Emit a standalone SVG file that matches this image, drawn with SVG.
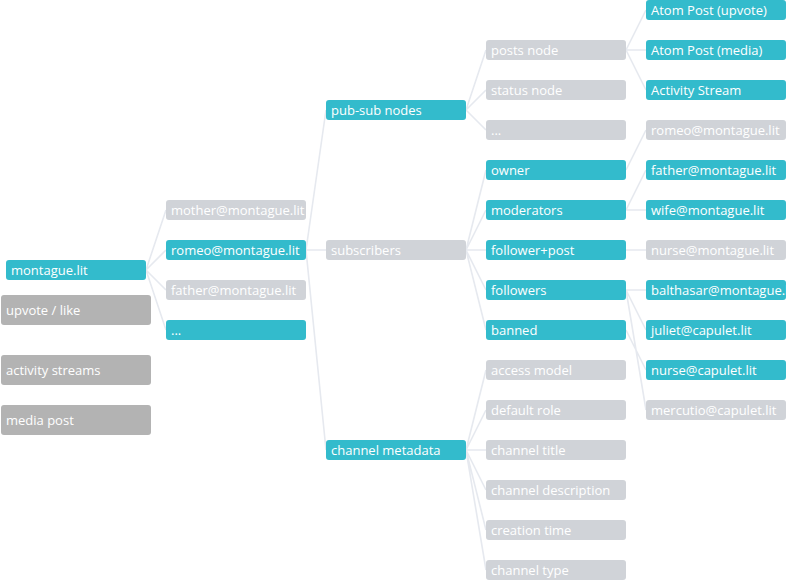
<svg xmlns="http://www.w3.org/2000/svg" width="786" height="580" viewBox="0 0 786 580">
<style>
.l{stroke:#e6e9ef;stroke-width:1.6;fill:none}
.t rect{fill:#33bbcc}
.g rect{fill:#d0d3d8}
.d rect{fill:#b3b3b3}
text{font-family:"Open Sans","Liberation Sans",sans-serif;font-size:13px;fill:#fff}
</style>
<rect width="786" height="580" fill="#fff"/>
<g id="connectors">
<path class="l" d="M146 270L166 210M146 270L166 250M146 270L166 290M146 270L166 330"/>
<path class="l" d="M306 250L326 110M306 250L326 250M306 250L326 450"/>
<path class="l" d="M466 110L486 50M466 110L486 90M466 110L486 130"/>
<path class="l" d="M466 250L486 170M466 250L486 210M466 250L486 250M466 250L486 290M466 250L486 330"/>
<path class="l" d="M466 450L486 370M466 450L486 410M466 450L486 450M466 450L486 490M466 450L486 530M466 450L486 570"/>
<path class="l" d="M626 50L646 10M626 50L646 50M626 50L646 90"/>
<path class="l" d="M626 170L646 130M626 210L646 170M626 210L646 210M626 250L646 250"/>
<path class="l" d="M626 290L646 290M626 290L646 330M626 290L646 410M626 330L646 370"/>
</g>
<g id="n-montague" class="t"><rect x="6" y="260" width="140" height="20" rx="3"/><text x="11" y="275">montague.lit</text></g>
<g id="n-upvote" class="d"><rect x="1" y="295" width="150" height="30" rx="3"/><text x="6" y="315">upvote / like</text></g>
<g id="n-activity" class="d"><rect x="1" y="355" width="150" height="30" rx="3"/><text x="6" y="375">activity streams</text></g>
<g id="n-media" class="d"><rect x="1" y="405" width="150" height="30" rx="3"/><text x="6" y="425">media post</text></g>

<g id="n-mother" class="g"><rect x="166" y="200" width="140" height="20" rx="3"/><text x="171" y="215">mother@montague.lit</text></g>
<g id="n-romeo" class="t"><rect x="166" y="240" width="140" height="20" rx="3"/><text x="171" y="255">romeo@montague.lit</text></g>
<g id="n-father" class="g"><rect x="166" y="280" width="140" height="20" rx="3"/><text x="171" y="295">father@montague.lit</text></g>
<g id="n-etc1" class="t"><rect x="166" y="320" width="140" height="20" rx="3"/><text x="171" y="335">...</text></g>

<g id="n-pubsub" class="t"><rect x="326" y="100" width="140" height="20" rx="3"/><text x="331" y="115">pub-sub nodes</text></g>
<g id="n-subscribers" class="g"><rect x="326" y="240" width="140" height="20" rx="3"/><text x="331" y="255">subscribers</text></g>
<g id="n-metadata" class="t"><rect x="326" y="440" width="140" height="20" rx="3"/><text x="331" y="455">channel metadata</text></g>

<g id="n-posts" class="g"><rect x="486" y="40" width="140" height="20" rx="3"/><text x="491" y="55">posts node</text></g>
<g id="n-status" class="g"><rect x="486" y="80" width="140" height="20" rx="3"/><text x="491" y="95">status node</text></g>
<g id="n-etc2" class="g"><rect x="486" y="120" width="140" height="20" rx="3"/><text x="491" y="135">...</text></g>
<g id="n-owner" class="t"><rect x="486" y="160" width="140" height="20" rx="3"/><text x="491" y="175">owner</text></g>
<g id="n-moderators" class="t"><rect x="486" y="200" width="140" height="20" rx="3"/><text x="491" y="215">moderators</text></g>
<g id="n-followerpost" class="t"><rect x="486" y="240" width="140" height="20" rx="3"/><text x="491" y="255">follower+post</text></g>
<g id="n-followers" class="t"><rect x="486" y="280" width="140" height="20" rx="3"/><text x="491" y="295">followers</text></g>
<g id="n-banned" class="t"><rect x="486" y="320" width="140" height="20" rx="3"/><text x="491" y="335">banned</text></g>
<g id="n-access" class="g"><rect x="486" y="360" width="140" height="20" rx="3"/><text x="491" y="375">access model</text></g>
<g id="n-role" class="g"><rect x="486" y="400" width="140" height="20" rx="3"/><text x="491" y="415">default role</text></g>
<g id="n-title" class="g"><rect x="486" y="440" width="140" height="20" rx="3"/><text x="491" y="455">channel title</text></g>
<g id="n-desc" class="g"><rect x="486" y="480" width="140" height="20" rx="3"/><text x="491" y="495">channel description</text></g>
<g id="n-ctime" class="g"><rect x="486" y="520" width="140" height="20" rx="3"/><text x="491" y="535">creation time</text></g>
<g id="n-ctype" class="g"><rect x="486" y="560" width="140" height="20" rx="3"/><text x="491" y="575">channel type</text></g>

<g id="n-atomup" class="t"><rect x="646" y="0" width="140" height="20" rx="3"/><text x="651" y="15">Atom Post (upvote)</text></g>
<g id="n-atommedia" class="t"><rect x="646" y="40" width="140" height="20" rx="3"/><text x="651" y="55">Atom Post (media)</text></g>
<g id="n-actstream" class="t"><rect x="646" y="80" width="140" height="20" rx="3"/><text x="651" y="95">Activity Stream</text></g>
<g id="n-romeo2" class="g"><rect x="646" y="120" width="140" height="20" rx="3"/><text x="651" y="135">romeo@montague.lit</text></g>
<g id="n-father2" class="t"><rect x="646" y="160" width="140" height="20" rx="3"/><text x="651" y="175">father@montague.lit</text></g>
<g id="n-wife" class="t"><rect x="646" y="200" width="140" height="20" rx="3"/><text x="651" y="215">wife@montague.lit</text></g>
<g id="n-nursem" class="g"><rect x="646" y="240" width="140" height="20" rx="3"/><text x="651" y="255">nurse@montague.lit</text></g>
<g id="n-balthasar" class="t"><rect x="646" y="280" width="140" height="20" rx="3"/><text x="651" y="295">balthasar@montague.lit</text></g>
<g id="n-juliet" class="t"><rect x="646" y="320" width="140" height="20" rx="3"/><text x="651" y="335">juliet@capulet.lit</text></g>
<g id="n-nursec" class="t"><rect x="646" y="360" width="140" height="20" rx="3"/><text x="651" y="375">nurse@capulet.lit</text></g>
<g id="n-mercutio" class="g"><rect x="646" y="400" width="140" height="20" rx="3"/><text x="651" y="415">mercutio@capulet.lit</text></g>
</svg>
